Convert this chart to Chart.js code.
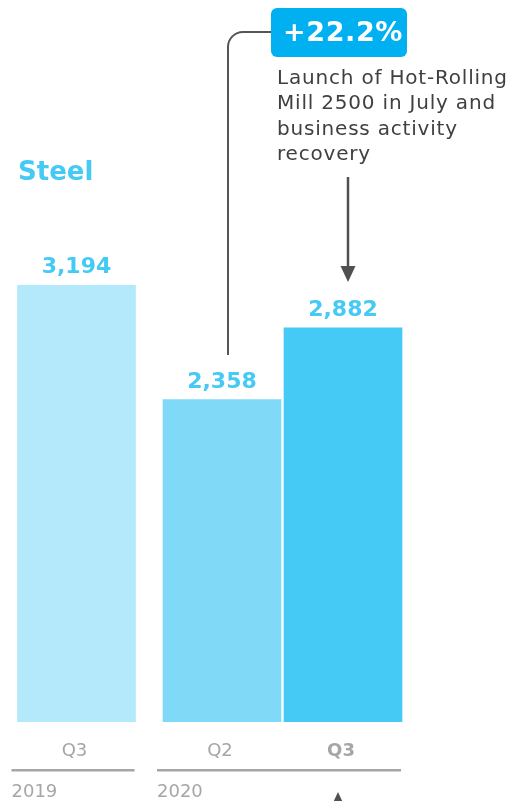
<!DOCTYPE html>
<html lang="en">
<head>
  <meta charset="UTF-8" />
  <title>Steel</title>
  <script src="https://cdn.jsdelivr.net/npm/chart.js"></script>
  <style>
    body {
      margin: 0;
      background: #fff;
    }
    canvas {
      display: block;
    }
  </style>
</head>
<body>
  <canvas id="steelChart" width="509" height="801"></canvas>

  <script>
    // Output by period, thousand tonnes
    const years = ['2019', '2020'];
    const quarters = ['Q2', 'Q3'];
    const q2Values = [null, 2358];
    const q3Values = [3194, 2882];
    const changeLabel = '+22.2%';
    const noteLines = ['Launch of Hot-Rolling', 'Mill 2500 in July and', 'business activity', 'recovery'];

    const BLUE = '#45c9f5';
    const GREY = '#a6a6a6';
    const DARK = '#404040';
    const FONT = '"DejaVu Sans", Verdana, sans-serif';

    // Labels, group rules and call-outs drawn on top of the bars
    const overlay = {
      id: 'overlay',
      afterDatasetsDraw(chart) {
        const ctx = chart.ctx;
        const bars = [];
        chart.data.datasets.forEach((ds, di) => {
          chart.getDatasetMeta(di).data.forEach((el, i) => {
            if (ds.data[i] == null) return;
            const half = el.width / 2 - 1.5;
            bars.push({ el, left: el.x - half, right: el.x + half, value: ds.data[i], quarter: ds.label, year: i });
          });
        });
        bars.sort((a, b) => a.el.x - b.el.x);
        const last = bars[bars.length - 1];

        ctx.save();
        ctx.textAlign = 'center';
        ctx.textBaseline = 'alphabetic';
        bars.forEach(b => {
          ctx.fillStyle = BLUE;
          ctx.font = 'bold 22px ' + FONT;
          ctx.fillText(b.value.toLocaleString('en-US'), b.el.x, b.el.y - 11.5);

          ctx.fillStyle = GREY;
          ctx.font = (b === last ? 'bold ' : '') + '18px ' + FONT;
          ctx.fillText(b.quarter, b.el.x - 2, b.el.base + 34);
        });

        // year rules and year names
        ctx.textAlign = 'left';
        years.forEach((y, yi) => {
          const group = bars.filter(b => b.year === yi);
          if (!group.length) return;
          const x0 = Math.min(...group.map(b => b.left)) - 6;
          const x1 = Math.max(...group.map(b => b.right)) - 1;
          ctx.fillStyle = GREY;
          ctx.fillRect(x0, 769, x1 - x0, 2.5);
          ctx.font = '18px ' + FONT;
          ctx.fillText(y, x0, 797);
        });

        // title
        ctx.fillStyle = BLUE;
        ctx.font = 'bold 26px ' + FONT;
        ctx.fillText('Steel', 18, 180);

        // connector from the Q2 bar to the change badge
        const prev = bars[bars.length - 2];
        const cx = prev.el.x + 6;
        ctx.strokeStyle = '#555';
        ctx.lineWidth = 2;
        ctx.beginPath();
        ctx.moveTo(cx, 355);
        ctx.lineTo(cx, 32 + 15);
        ctx.arcTo(cx, 32, cx + 15, 32, 15);
        ctx.lineTo(271, 32);
        ctx.stroke();

        // change badge
        ctx.fillStyle = '#00b0f0';
        ctx.beginPath();
        ctx.roundRect(271, 8, 136, 49, 6);
        ctx.fill();
        ctx.fillStyle = '#fff';
        ctx.font = 'bold 27px ' + FONT;
        ctx.textAlign = 'center';
        ctx.letterSpacing = '0.6px';
        ctx.fillText(changeLabel, 343, 41);

        // note
        ctx.fillStyle = DARK;
        ctx.font = '20px ' + FONT;
        ctx.textAlign = 'left';
        ctx.letterSpacing = '0.8px';
        noteLines.forEach((line, i) => ctx.fillText(line, 277, 83.5 + i * 25.5));
        ctx.letterSpacing = '0px';

        // arrow down to the Q3 bar
        const ax = last.el.x + 5;
        ctx.strokeStyle = '#505050';
        ctx.fillStyle = '#505050';
        ctx.lineWidth = 2.5;
        ctx.beginPath();
        ctx.moveTo(ax, 177);
        ctx.lineTo(ax, 268);
        ctx.stroke();
        ctx.beginPath();
        ctx.moveTo(ax - 7.5, 266);
        ctx.lineTo(ax + 7.5, 266);
        ctx.lineTo(ax, 282);
        ctx.closePath();
        ctx.fill();

        // head of the arrow leaving the bottom
        ctx.beginPath();
        ctx.moveTo(ax - 10, 792);
        ctx.lineTo(ax - 10 + 7.5, 808);
        ctx.lineTo(ax - 10 - 7.5, 808);
        ctx.closePath();
        ctx.fill();
        ctx.restore();
      }
    };

    const ctx = document.getElementById('steelChart').getContext('2d');
    const chart = new Chart(ctx, {
      type: 'bar',
      data: {
        labels: years,
        datasets: [
          {
            label: quarters[0],
            data: q2Values,
            backgroundColor: ['#7fd9f7', '#7fd9f7']
          },
          {
            label: quarters[1],
            data: q3Values,
            backgroundColor: ['#b3e9fa', BLUE]
          }
        ]
      },
      options: {
        responsive: false,
        animation: false,
        devicePixelRatio: 1,
        layout: {
          padding: { left: 76.5, right: 226.5, top: 174.4, bottom: 79 }
        },
        datasets: {
          bar: {
            skipNull: true,
            barThickness: 121,
            borderColor: '#fff',
            borderWidth: { left: 1.5, right: 1.5, top: 0, bottom: 0 },
            borderSkipped: false,
            clip: false
          }
        },
        scales: {
          x: { display: false, offset: false },
          y: { display: false, min: 0, max: 4000 }
        },
        plugins: {
          legend: { display: false },
          tooltip: { enabled: false }
        }
      },
      plugins: [overlay]
    });
  </script>
</body>
</html>
